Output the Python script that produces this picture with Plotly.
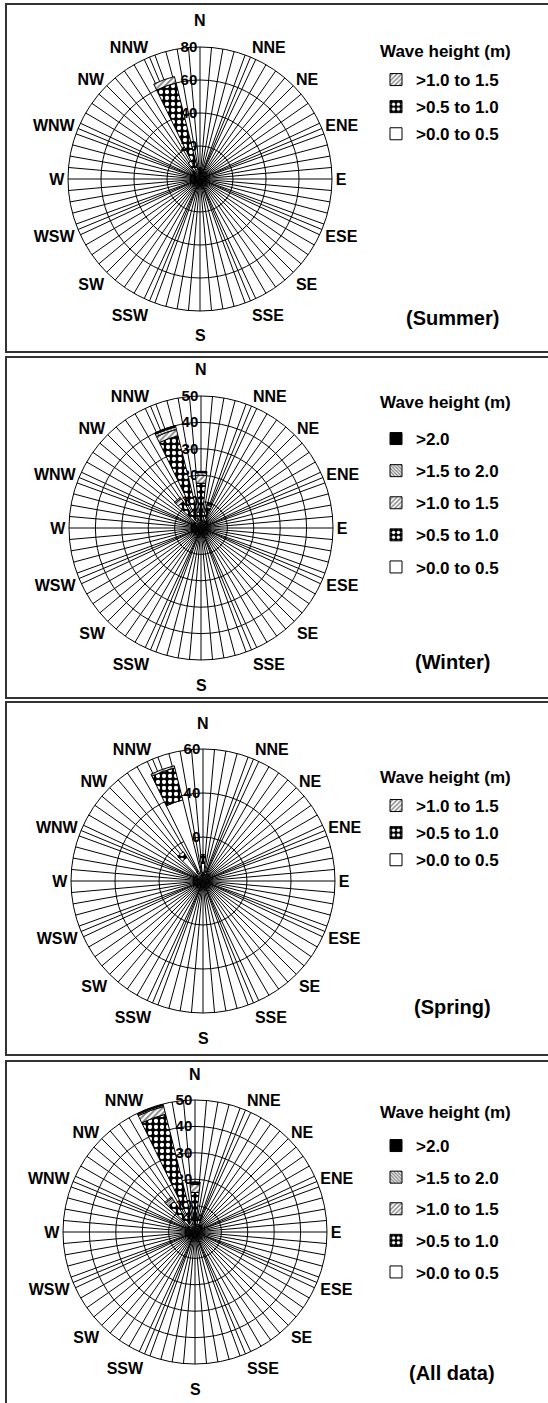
import plotly.graph_objects as go

W, H = 548, 1403
FONT = "Liberation Sans, Arial, sans-serif"

# wave height classes (inner -> outer in the stack)
classes = [">0.0 to 0.5", ">0.5 to 1.0", ">1.0 to 1.5", ">1.5 to 2.0", ">2.0"]

compass = ["N", "NNE", "NE", "ENE", "E", "ESE", "SE", "SSE",
           "S", "SSW", "SW", "WSW", "W", "WNW", "NW", "NNW"]

# direction bins (deg) where bars show up
directions = [310, 320, 330, 340, 350, 0, 10, 20, 30, 60, 90, 180, 270]

# frequency (%) per class
summer_h0 = [2, 4, 8, 6, 3, 3, 3, 2, 2, 2, 2, 2, 2]
summer_h1 = [0, 2, 4, 54, 2, 4, 1, 1, 0, 0, 0, 0, 0]
summer_h2 = [0, 0, 0, 4, 0, 0, 0, 0, 0, 0, 0, 0, 0]

winter_h0 = [2, 4, 3, 4, 3, 3, 3, 3, 2, 2, 2, 1.5, 2]
winter_h1 = [1, 8, 4, 32, 3, 14, 3, 5, 2, 1, 0, 0, 0]
winter_h2 = [0, 1.5, 0, 2.5, 0, 3, 0, 1, 0.5, 0, 0, 0, 0]
winter_h3 = [0, 0.5, 0, 1, 0, 1, 0, 0.5, 0, 0, 0, 0, 0]
winter_h4 = [0, 0, 0, 0.5, 0, 0.5, 0, 0.5, 0, 0, 0, 0, 0]

spring_h0 = [3, 13, 4, 38, 3, 8, 3, 3, 2, 2, 2, 2, 2]
spring_h1 = [0, 3, 1, 15, 1, 4, 1, 1, 0, 0, 0, 0, 0]
spring_h2 = [0, 0, 0, 1, 0, 0, 0, 0, 0, 0, 0, 0, 0]

all_h0 = [2, 4, 4, 5, 3, 3, 3, 3, 2, 2, 2, 1.5, 2]
all_h1 = [1, 10, 3, 41, 2, 12, 2, 3, 1, 1, 0, 0, 0]
all_h2 = [0, 1.5, 0, 3, 0, 3, 0, 0.5, 0, 0, 0, 0, 0]
all_h3 = [0, 0.5, 0, 0.5, 0, 0.5, 0, 0, 0, 0, 0, 0, 0]
all_h4 = [0, 0, 0, 0.3, 0, 0.5, 0, 0.3, 0, 0, 0, 0, 0]

panels = [
    dict(name="(Summer)", series=[summer_h0, summer_h1, summer_h2],
         rmax=80, rticks=[0, 20, 40, 60, 80], cx=200, cy=179, frame=(4, 352),
         title_y=52, item_y=79, gap=2, label_y=318),
    dict(name="(Winter)", series=[winter_h0, winter_h1, winter_h2, winter_h3, winter_h4],
         rmax=50, rticks=[0, 10, 20, 30, 40, 50], cx=201, cy=528, frame=(357, 698),
         title_y=402, item_y=438, gap=7, label_y=662),
    dict(name="(Spring)", series=[spring_h0, spring_h1, spring_h2],
         rmax=60, rticks=[0, 20, 40, 60], cx=203, cy=881, frame=(702, 1055),
         title_y=777, item_y=805, gap=2, label_y=1007),
    dict(name="(All data)", series=[all_h0, all_h1, all_h2, all_h3, all_h4],
         rmax=50, rticks=[0, 10, 20, 30, 40, 50], cx=195, cy=1232, frame=(1061, 1410),
         title_y=1112, item_y=1145, gap=6.5, label_y=1373),
]
R = 132

styles = {
    ">0.0 to 0.5": dict(color="white"),
    ">0.5 to 1.0": dict(color="black", pattern=dict(shape=".", fgcolor="white", bgcolor="black",
                                                      size=6, solidity=0.4, fillmode="replace")),
    ">1.0 to 1.5": dict(color="white", pattern=dict(shape="/", fgcolor="black", bgcolor="white",
                                                      size=4, solidity=0.45)),
    ">1.5 to 2.0": dict(color="white", pattern=dict(shape="\\", fgcolor="black", bgcolor="white",
                                                      size=3, solidity=0.55)),
    ">2.0": dict(color="black"),
}

# spokes every 5 deg plus the 16 compass points; N and S are placed further out below
tickvals = sorted(set(list(range(0, 360, 5)) + [i * 22.5 for i in range(16)]))
ticktext = []
for v in tickvals:
    if v % 22.5 != 0 or v in (0, 180):
        ticktext.append("")
    else:
        ticktext.append(compass[int(v // 22.5)])

fig = go.Figure()
layout = {}
shapes = []
annotations = []
bold = lambda size: dict(family=FONT, size=size, color="black", weight="bold")

for i, p in enumerate(panels):
    suffix = "" if i == 0 else str(i + 1)
    polar = "polar" + suffix
    legend = "legend" + suffix
    for k, vals in enumerate(p["series"]):
        cls = classes[k]
        st = styles[cls]
        marker = dict(color=st["color"], line=dict(color="black", width=1))
        if "pattern" in st:
            marker["pattern"] = st["pattern"]
        fig.add_trace(go.Barpolar(
            r=vals, theta=directions, width=12, name=cls,
            marker=marker, subplot=polar, legend=legend,
            legendgroup=cls + suffix, legendrank=100 - k,
        ))
    layout[polar] = dict(
        domain=dict(x=[(p["cx"] - R) / W, (p["cx"] + R) / W],
                    y=[1 - (p["cy"] + R) / H, 1 - (p["cy"] - R) / H]),
        bgcolor="white",
        barmode="stack",
        angularaxis=dict(
            rotation=90, direction="clockwise",
            tickmode="array", tickvals=tickvals, ticktext=ticktext,
            showgrid=True, gridcolor="black", gridwidth=1,
            showline=True, linecolor="black", linewidth=1,
            ticks="", tickfont=bold(16),
        ),
        radialaxis=dict(
            range=[0, p["rmax"]], tickvals=p["rticks"], angle=90, side="counterclockwise",
            showgrid=True, gridcolor="black", gridwidth=1,
            showline=False, ticks="", layer="below traces", tickangle=90,
            tickfont=bold(15),
        ),
    )
    layout[legend] = dict(
        x=376 / W, y=1 - (p["item_y"] - 17) / H, xanchor="left", yanchor="top",
        font=bold(17), traceorder="grouped", tracegroupgap=p["gap"],
        bgcolor="rgba(0,0,0,0)", itemwidth=30,
    )
    y0, y1 = p["frame"]
    shapes.append(dict(type="rect", xref="paper", yref="paper",
                       x0=6 / W, x1=1.02, y0=1 - y1 / H, y1=1 - y0 / H,
                       line=dict(color="#333333", width=2)))
    for txt, dy in (("N", -(R + 26)), ("S", R + 25)):
        annotations.append(dict(text=txt, xref="paper", yref="paper",
                                x=p["cx"] / W, y=1 - (p["cy"] + dy) / H,
                                xanchor="center", yanchor="middle", showarrow=False,
                                font=bold(16)))
    annotations.append(dict(text="Wave height (m)", xref="paper", yref="paper",
                            x=378 / W, y=1 - p["title_y"] / H, xanchor="left", yanchor="middle",
                            showarrow=False, font=bold(17)))
    annotations.append(dict(text=p["name"], xref="paper", yref="paper",
                            x=452 / W, y=1 - p["label_y"] / H, xanchor="center", yanchor="middle",
                            showarrow=False, font=bold(20)))

fig.update_layout(**layout)
fig.update_layout(
    width=W, height=H, margin=dict(l=0, r=0, t=0, b=0),
    paper_bgcolor="white", shapes=shapes, annotations=annotations,
    font=dict(family=FONT, color="black"),
)

fig.write_html("out.html", config={"displayModeBar": False},
               post_script="document.body.style.margin='0';")
